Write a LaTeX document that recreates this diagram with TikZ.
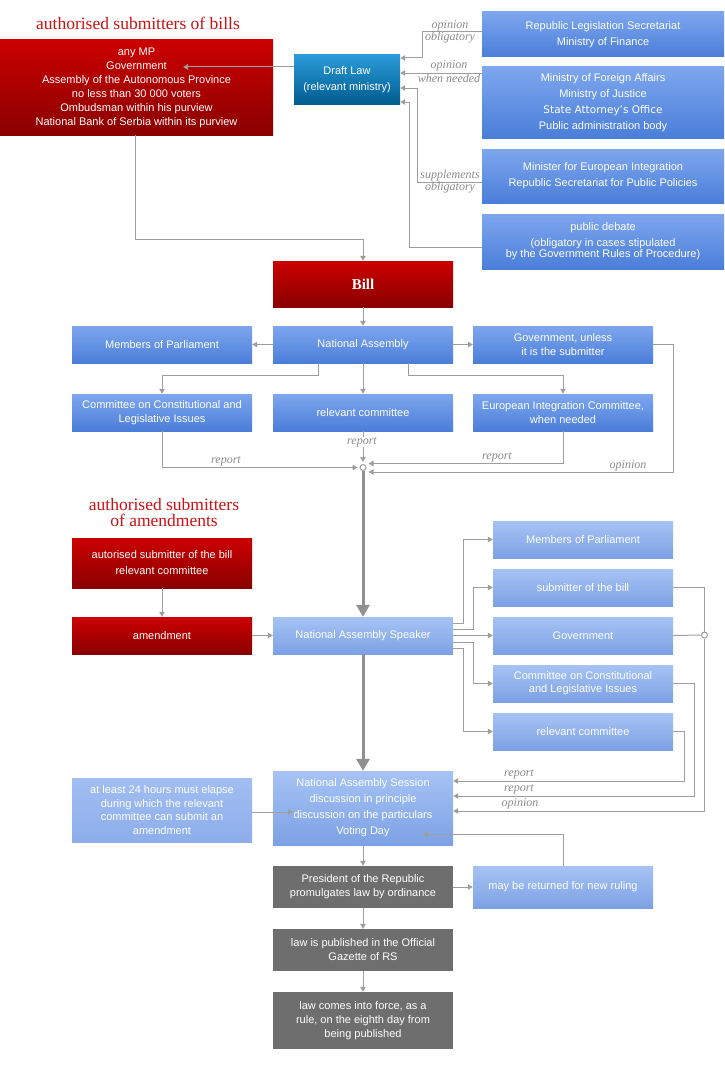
\documentclass[tikz,border=0pt]{standalone}
\usepackage{fontspec}
\setmainfont{Liberation Serif}
\setsansfont{Liberation Sans}
\newfontfamily\dejavu{DejaVu Sans}
\usetikzlibrary{arrows.meta}
\definecolor{rtop}{HTML}{CC0000}
\definecolor{rbot}{HTML}{8A0000}
\definecolor{dtop}{HTML}{2B9BD9}
\definecolor{dbot}{HTML}{005B8F}
\definecolor{mtop}{HTML}{7EA6EE}
\definecolor{mbot}{HTML}{4A7ED9}
\definecolor{ltop}{HTML}{A6C3F4}
\definecolor{lbot}{HTML}{7DA1E5}
\definecolor{htop}{HTML}{A2BEF2}
\definecolor{hbot}{HTML}{8DAEEB}
\definecolor{gbox}{HTML}{6E6E6E}
\definecolor{lgray}{HTML}{9E9E9E}
\definecolor{biggray}{HTML}{909090}
\definecolor{lblgray}{HTML}{8A8A8A}
\definecolor{titlered}{HTML}{CC1111}
\begin{document}
\begin{tikzpicture}[x=1pt,y=-1pt,
  box/.style={rectangle, inner sep=0pt, minimum width=180pt, minimum height=37pt, align=center, text=white, font=\sffamily\fontsize{11}{14}\selectfont},
  redbox/.style={box, top color=rtop, bottom color=rbot},
  draftbox/.style={box, top color=dtop, bottom color=dbot},
  medbox/.style={box, top color=mtop, bottom color=mbot},
  lightbox/.style={box, top color=ltop, bottom color=lbot},
  hbox/.style={box, top color=htop, bottom color=hbot},
  graybox/.style={box, fill=gbox},
  bsixteen/.style={font=\sffamily\fontsize{11}{16}\selectfont},
  bthirteen/.style={font=\sffamily\fontsize{11}{13}\selectfont},
  conn/.style={draw=lgray, line width=1pt, -{Triangle[length=5pt,width=5.5pt]}},
  plainline/.style={draw=lgray, line width=1pt},
  bigarrow/.style={draw=biggray, line width=3pt, -{Triangle[length=12pt,width=13pt]}},
  junction/.style={circle, draw=lgray, fill=white, line width=1pt, minimum size=6pt, inner sep=0pt},
  lbl/.style={font=\rmfamily\itshape\fontsize{12}{12}\selectfont, text=lblgray, inner sep=0.5pt},
  titlestyle/.style={font=\rmfamily\fontsize{17.5}{16}\selectfont, text=titlered, align=center, inner sep=0pt}
]
\useasboundingbox (0,0) rectangle (724,1065);

% titles
\node[titlestyle] (t1) at (138,23) {authorised submitters of bills};
\node[titlestyle] (t2) at (164,513) {authorised submitters\\of amendments};

% top part
\node[redbox, minimum width=273pt, minimum height=95pt] (subm) at (136.5,87.5) {any MP\\Government\\Assembly of the Autonomous Province\\no less than 30 000 voters\\Ombudsman within his purview\\National Bank of Serbia within its purview};
\node[draftbox, bsixteen, minimum width=106pt, minimum height=49pt] (draft) at (347,79.5) {Draft Law\\(relevant ministry)};
\node[medbox, bsixteen, minimum width=242pt, minimum height=45pt] (rls) at (603,34.5) {Republic Legislation Secretariat\\Ministry of Finance};
\node[medbox, bsixteen, minimum width=242pt, minimum height=71pt] (mfa) at (603,102.5) {Ministry of Foreign Affairs\\Ministry of Justice\\{\dejavu\fontsize{10.5}{16}\selectfont State Attorney’s Office}\\Public administration body};
\node[medbox, bsixteen, minimum width=242pt, minimum height=54pt] (mei) at (603,176) {Minister for European Integration\\Republic Secretariat for Public Policies};
\node[medbox, font=\sffamily\fontsize{11}{11}\selectfont, minimum width=242pt, minimum height=55pt] (pub) at (603,241.5) {public debate\\[5pt](obligatory in cases stipulated\\by the Government Rules of Procedure)};

\coordinate (submin) at (183,67);
\draw[conn] (draft.west |- 0,67) -- (submin);
\draw[conn] (rls.west |- 0,32) -| (422,58) -- (draft.east |- 0,58);
\draw[conn] (mfa.west |- 0,73) -- (draft.east |- 0,73);
\draw[conn] (mei.west |- 0,182) -| (417,88) -- (draft.east |- 0,88);
\draw[conn] (pub.west |- 0,247) -| (409,102) -- (draft.east |- 0,102);
\node[lbl] (la1) at (450,26) {opinion};
\node[lbl] (la2) at (450,38) {obligatory};
\node[lbl] (lb1) at (449,66) {opinion};
\node[lbl] (lb2) at (449,78) {when needed};
\node[lbl] (lc1) at (450,176) {supplements};
\node[lbl] (lc2) at (450,188) {obligatory};

% bill and national assembly
\node[redbox, font=\rmfamily\bfseries\fontsize{15}{15}\selectfont, minimum height=46pt] (bill) at (363,284) {Bill};
\draw[conn] (subm.south -| 135,0) |- (363,239) -- (bill.north);
\node[medbox] (na) at (363,344.5) {National Assembly};
\node[medbox] (mp) at (162,344.5) {Members of Parliament};
\node[medbox] (govu) at (563,344.5) {Government, unless\\it is the submitter};
\node[medbox] (cc) at (162,412.5) {Committee on Constitutional and\\Legislative Issues};
\node[medbox] (rc) at (363,412.5) {relevant committee};
\node[medbox] (eic) at (563,412.5) {European Integration Committee,\\when needed};
\node[junction] (c1) at (363,467.5) {};
\coordinate (c1a) at ([shift={(2pt,4pt)}]c1.east);
\coordinate (c1b) at ([shift={(2pt,-4.5pt)}]c1.east);

\draw[conn] (bill) -- (na);
\draw[conn] (na) -- (mp);
\draw[conn] (na) -- (govu);
\draw[conn] (na.south -| 318,0) |- (162,375) -- (cc.north);
\draw[conn] (na) -- (rc);
\draw[conn] (na.south -| 408,0) |- (563,375) -- (eic.north);
\draw[conn, shorten >=2pt] (rc) -- (c1);
\node[lbl, fill=white] (lr1) at (362,442) {report};
\draw[conn, shorten >=2pt] (cc.south) |- (c1.west);
\node[lbl] (lr2) at (226,461) {report};
\draw[conn] (eic.south) |- (c1a);
\node[lbl] (lr3) at (497,457) {report};
\draw[conn] (govu.east) -| (673,0 |- c1b) -- (c1b);
\node[lbl] (lo1) at (628,466) {opinion};

% amendments
\node[redbox, bsixteen, minimum height=50pt] (asb) at (162,563) {autorised submitter of the bill\\relevant committee};
\node[redbox] (am) at (162,635.5) {amendment};
\node[lightbox] (sp) at (363,635.5) {National Assembly Speaker};
\node[lightbox] (mp2) at (583,539.5) {Members of Parliament};
\node[lightbox] (sb) at (583,587.5) {submitter of the bill};
\node[lightbox] (gv) at (583,635.5) {Government};
\node[lightbox, bthirteen] (cc2) at (583,683.5) {Committee on Constitutional\\and Legislative Issues};
\node[lightbox] (rc2) at (583,731.5) {relevant committee};
\node[junction] (c2) at (704.5,635) {};

\draw[bigarrow] (c1) -- (sp);
\draw[conn] (asb) -- (am);
\draw[conn] (am) -- (sp);
\draw[conn] (sp.east |- 0,623) -- (463,623) |- (mp2.west);
\draw[conn] (sp.east |- 0,629) -- (473,629) |- (sb.west);
\draw[conn] (sp) -- (gv);
\draw[conn] (sp.east |- 0,642) -- (473,642) |- (cc2.west);
\draw[conn] (sp.east |- 0,648) -- (463,648) |- (rc2.west);
\draw[plainline] (sb.east) -| (c2.north);
\draw[plainline] (gv.east) -- (c2.west);

% session
\node[lightbox, bsixteen, minimum height=74pt] (ses) at (363,808) {National Assembly Session\\discussion in principle\\discussion on the particulars\\Voting Day};
\node[hbox, font=\sffamily\fontsize{11}{13.5}\selectfont, minimum height=64pt] (h24) at (162,810) {at least 24 hours must elapse\\during which the relevant\\committee can submit an\\amendment};
\draw[bigarrow] (sp) -- (ses);
\draw[conn] (c2.south) |- (ses.east |- 0,811);
\draw[conn] (cc2.east) -| (694,796) -- (ses.east |- 0,796);
\draw[conn] (rc2.east) -| (684,781) -- (ses.east |- 0,781);
\node[lbl] (lr4) at (519,774) {report};
\node[lbl] (lr5) at (519,789) {report};
\node[lbl] (lo2) at (520,804) {opinion};
\coordinate (sesin1) at (293,812);
\coordinate (sesin2) at (423,834.5);
\draw[conn] (h24.east |- 0,812) -- (sesin1);

% final steps
\node[graybox, minimum height=42pt] (pr) at (363,887) {President of the Republic\\promulgates law by ordinance};
\node[lightbox, minimum height=42pt] (mr) at (563,887) {may be returned for new ruling};
\node[graybox, minimum height=42pt] (pubs) at (363,950) {law is published in the Official\\Gazette of RS};
\node[graybox, minimum height=57pt] (frc) at (363,1020.5) {law comes into force, as a\\rule, on the eighth day from\\being published};
\draw[conn] (ses) -- (pr);
\draw[conn] (pr) -- (mr);
\draw[conn] (mr.north) |- (sesin2);
\draw[conn] (pr) -- (pubs);
\draw[conn] (pubs) -- (frc);
\end{tikzpicture}
\end{document}
